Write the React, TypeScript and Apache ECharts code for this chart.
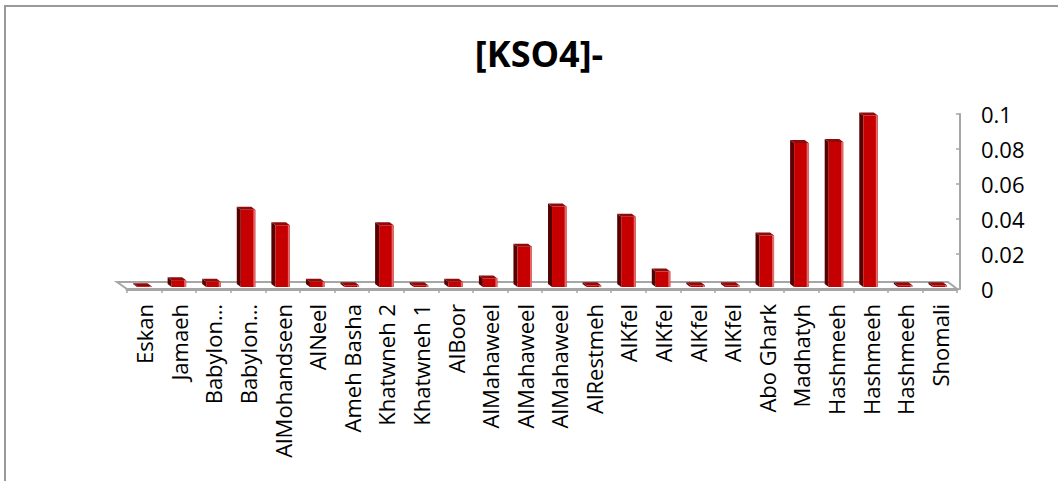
import React, { useEffect, useRef } from "react";
import * as echarts from "echarts";

// Sampling sites along the x axis
const categories = [
  "Eskan", "Jamaeh", "Babylon…", "Babylon…", "AlMohandseen", "AlNeel",
  "Ameh Basha", "Khatwneh 2", "Khatwneh 1", "AlBoor", "AlMahaweel", "AlMahaweel",
  "AlMahaweel", "AlRestmeh", "AlKfel", "AlKfel", "AlKfel", "AlKfel",
  "Abo Ghark", "Madhatyh", "Hashmeeh", "Hashmeeh", "Hashmeeh", "Shomali",
];

// [KSO4]- concentration per site
const kso4Values = [
  0.0005, 0.004, 0.003, 0.045, 0.036, 0.003,
  0.001, 0.036, 0.001, 0.003, 0.005, 0.0235,
  0.047, 0.001, 0.041, 0.009, 0.001, 0.001,
  0.030, 0.084, 0.0845, 0.1, 0.001, 0.001,
];

const yTicks = { min: 0, max: 0.1, interval: 0.02 };

const FONT = "'Open Sans', 'Noto Sans', sans-serif";
const GRAY = "#a6a6a6";

export default function App() {
  const ref = useRef<HTMLDivElement>(null);

  useEffect(() => {
    document.body.style.margin = "0";
    if (!ref.current) return;
    const chart = echarts.init(ref.current, null, { renderer: "svg" });

    // pseudo-3D column: front face, dark left side, top cap, light right edge.
    // Columns stand slightly behind the axis plane, so their height recedes a little.
    const renderBar = (params: any, api: any) => {
      const idx = api.value(0);
      const v = api.value(1);
      const base = api.coord([idx, 0]);
      const top = api.coord([idx, v]);
      const band = api.size([1, 0])[0];
      const w = band * 0.42;
      const x0 = base[0] - w / 2;
      const x1 = base[0] + w / 2;
      const yb = base[1] - 2;
      const yt = Math.min(yb - (base[1] - top[1]) * 0.98, yb - 0.5);
      const dx = -4;
      const dy = -3;
      return {
        type: "group",
        children: [
          {
            type: "polygon",
            shape: { points: [[x0, yb], [x0 + dx, yb + dy], [x0 + dx, yt + dy], [x0, yt]] },
            style: { fill: "#560000" },
          },
          {
            type: "polygon",
            shape: { points: [[x0, yt], [x0 + dx, yt + dy], [x1 + dx, yt + dy], [x1, yt]] },
            style: { fill: "#8e0b0b" },
          },
          {
            type: "rect",
            shape: { x: x0, y: yt, width: w, height: yb - yt },
            style: { fill: "#c60000" },
          },
          {
            type: "rect",
            shape: { x: x1 - 2, y: yt, width: 2, height: yb - yt },
            style: { fill: "#e06a6a" },
          },
        ],
      };
    };

    // floor of the 3D plot area, built from the grid rectangle
    const renderFloor = (params: any) => {
      const cs = params.coordSys;
      const yf = cs.y + cs.height;
      const yk = yf - 7;
      const xl = cs.x;
      const xr = cs.x + cs.width;
      return {
        type: "polygon",
        shape: { points: [[xl, yf], [xl - 10, yk], [xr - 9, yk], [xr, yf]] },
        style: { fill: "#ffffff", stroke: GRAY, lineWidth: 2 },
      };
    };

    chart.setOption({
      animation: false,
      backgroundColor: "#ffffff",
      graphic: [
        {
          type: "rect",
          shape: { x: 5, y: 6, width: 1100, height: 520 },
          style: { fill: "none", stroke: "#9a9a9a", lineWidth: 2 },
          z: -1,
        },
        {
          type: "text",
          x: 539,
          y: 53,
          style: {
            text: "[KSO4]-",
            fontFamily: FONT,
            fontWeight: "bold",
            fontSize: 36,
            fill: "#000000",
            textAlign: "center",
            textVerticalAlign: "middle",
          },
        },
      ],
      grid: { left: 127, right: 101, top: 114, bottom: 192, containLabel: false },
      xAxis: {
        type: "category",
        data: categories,
        axisLine: { show: true, lineStyle: { color: GRAY, width: 3 } },
        axisTick: { show: true, length: 4, interval: 0, lineStyle: { color: GRAY, width: 1.5 } },
        axisLabel: {
          interval: 0,
          rotate: 90,
          margin: 15,
          fontSize: 22,
          fontFamily: FONT,
          color: "#000000",
        },
        splitLine: { show: false },
      },
      yAxis: {
        type: "value",
        position: "right",
        offset: 3,
        min: yTicks.min,
        max: yTicks.max,
        interval: yTicks.interval,
        axisLine: { show: true, lineStyle: { color: GRAY, width: 2 } },
        axisTick: { show: true, inside: true, length: 4, lineStyle: { color: GRAY, width: 1.5 } },
        axisLabel: {
          margin: 21,
          fontSize: 22,
          fontFamily: FONT,
          color: "#000000",
          padding: [6, 0, 0, 0],
        },
        splitLine: { show: false },
      },
      series: [
        {
          type: "custom",
          name: "floor",
          renderItem: renderFloor,
          data: [[0, 0]],
          silent: true,
          z: 1,
        },
        {
          type: "custom",
          name: "[KSO4]-",
          renderItem: renderBar,
          encode: { x: 0, y: 1 },
          data: kso4Values.map((v, i) => [i, v]),
          z: 2,
        },
      ],
    });

    return () => chart.dispose();
  }, []);

  return <div ref={ref} style={{ width: 1058, height: 481 }} />;
}
